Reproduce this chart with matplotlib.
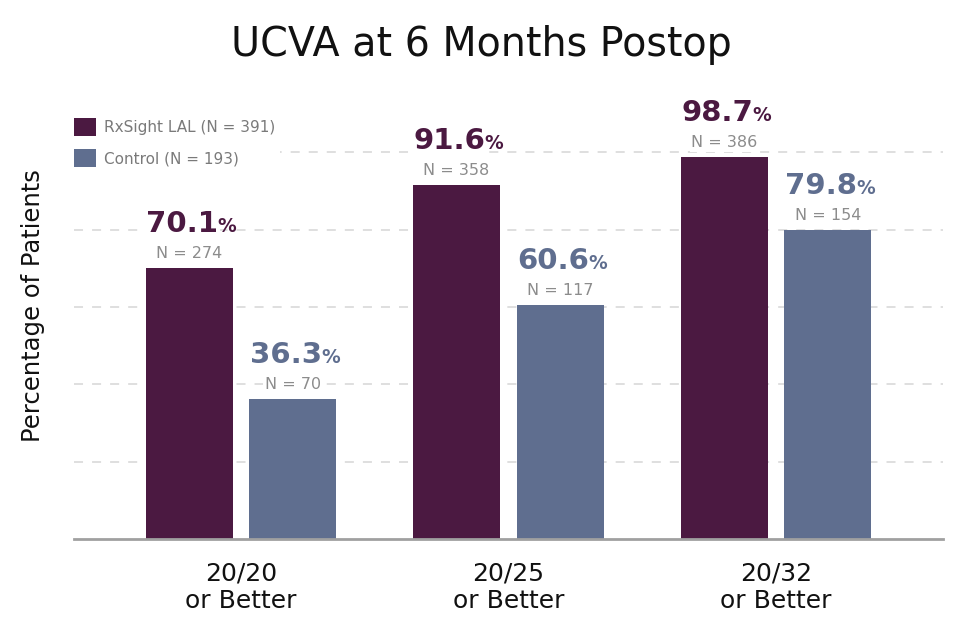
import matplotlib as mpl
import matplotlib.pyplot as plt
from matplotlib.patches import Patch

mpl.rc('font', family=['DejaVu Sans'])

# --- data ---
categories = ['20/20\nor Better', '20/25\nor Better', '20/32\nor Better']
series_names = ['RxSight LAL (N = 391)', 'Control (N = 193)']
lal_pct = [70.1, 91.6, 98.7]
lal_n = [274, 358, 386]
ctrl_pct = [36.3, 60.6, 79.8]
ctrl_n = [70, 117, 154]

purple = '#4b1941'
blue = '#5f6e8f'
gray_txt = '#8c8c8c'

fig = plt.figure(figsize=(9.59, 6.35), dpi=100)
ax = fig.add_axes([74/959, 1 - 539/635, (943 - 74)/959, (539 - 95)/635])

x = list(range(len(categories)))
w = 0.325
off = 0.194
bg = dict(facecolor='white', edgecolor='none', pad=1.0)

# dashed grid
for g in [20, 40, 60, 80, 100]:
    ax.axhline(g, color='#dcdcdc', lw=1.3, ls=(0, (5, 5)), zorder=0)

for pct, ns, col, sgn in [(lal_pct, lal_n, purple, -1), (ctrl_pct, ctrl_n, blue, 1)]:
    xs = [xi + sgn*off for xi in x]
    ax.bar(xs, pct, width=w, color=col, zorder=2)
    for xi, p, n in zip(xs, pct, ns):
        t = ax.annotate('%.1f' % p, xy=(xi, p), xytext=(-7, 36), textcoords='offset pixels',
                        ha='center', va='baseline', fontsize=21, fontweight='bold', color=col,
                        bbox=bg)
        ax.annotate('%', xy=(1, 0), xycoords=t, xytext=(-1, 2), textcoords='offset pixels',
                    ha='left', va='bottom', fontsize=13.5, fontweight='bold', color=col)
        ax.annotate('N = %d' % n, xy=(xi, p), xytext=(0, 10), textcoords='offset pixels',
                    ha='center', va='baseline', fontsize=11.5, color=gray_txt, bbox=bg)

ax.set_xlim(-0.624, 2.624)
ax.set_ylim(0, (539 - 95)/3.866)
ax.set_xticks(x)
ax.set_xticklabels(categories, fontsize=18, color='#111111', linespacing=1.2)
ax.tick_params(axis='x', length=0, pad=16)
ax.set_yticks([])
for s in ['top', 'right', 'left']:
    ax.spines[s].set_visible(False)
ax.spines['bottom'].set_color('#a0a0a0')
ax.spines['bottom'].set_linewidth(2)

fig.text(33/959, 1 - 306/635, 'Percentage of Patients', rotation=90, ha='center', va='center',
         fontsize=17.5, color='#111111')
fig.text(481/959, 1 - 45/635, 'UCVA at 6 Months Postop', ha='center', va='center',
         fontsize=28.5, color='#111111')

handles = [Patch(facecolor=purple), Patch(facecolor=blue)]
leg = fig.legend(handles, series_names, loc='upper left', bbox_to_anchor=(62/959, 1 - 106/635),
                 frameon=True, fontsize=11, handlelength=1.45, handleheight=1.45,
                 labelspacing=0.85, handletextpad=0.5, borderpad=0.3, labelcolor='#7a7a7a')
leg.get_frame().set_facecolor('white')
leg.get_frame().set_edgecolor('none')
leg.get_frame().set_alpha(1)

fig.savefig('out.png', dpi=100)
